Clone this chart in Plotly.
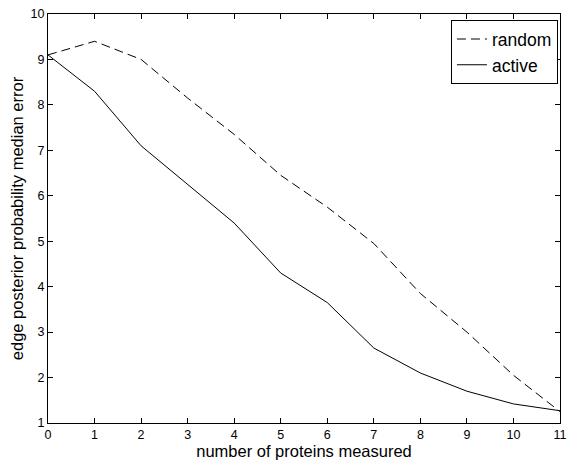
import plotly.graph_objects as go

x_vals = [0, 1, 2, 3, 4, 5, 6, 7, 8, 9, 10, 11]
random_err = [9.1, 9.4, 9.0, 8.15, 7.35, 6.45, 5.75, 4.95, 3.85, 3.0, 2.05, 1.25]
active_err = [9.1, 8.3, 7.1, 6.25, 5.4, 4.3, 3.65, 2.65, 2.1, 1.7, 1.42, 1.27]
x_ticks = list(range(0, 12))
y_ticks = list(range(1, 11))

fig = go.Figure()
fig.add_trace(go.Scatter(x=x_vals, y=random_err, mode="lines", name="random",
                         line=dict(color="black", width=1, dash="9px,5px")))
fig.add_trace(go.Scatter(x=x_vals, y=active_err, mode="lines", name="active",
                         line=dict(color="black", width=1)))

axis_common = dict(showgrid=False, zeroline=False, showline=True, linecolor="black",
                   linewidth=1, mirror="ticks", ticks="inside", ticklen=5,
                   tickcolor="black", tickfont=dict(size=12.5, color="black"))

fig.update_layout(
    width=574, height=461,
    margin=dict(l=48, r=7, t=12, b=38),
    paper_bgcolor="white", plot_bgcolor="white",
    font=dict(family="Liberation Sans, Arial, sans-serif", color="black"),
    xaxis=dict(range=[0, 11], tickvals=x_ticks,
               title=dict(text="number of proteins measured", font=dict(size=16.5), standoff=0),
               **axis_common),
    yaxis=dict(range=[1, 10], tickvals=y_ticks,
               title=dict(text="edge posterior probability median error", font=dict(size=16.5), standoff=2),
               **axis_common),
    legend=dict(x=0.996, y=0.985, xanchor="right", yanchor="top",
                bordercolor="black", borderwidth=1, bgcolor="white",
                font=dict(size=17.5), tracegroupgap=0, itemwidth=30),
    showlegend=True,
)

fig.write_html("out.html")
